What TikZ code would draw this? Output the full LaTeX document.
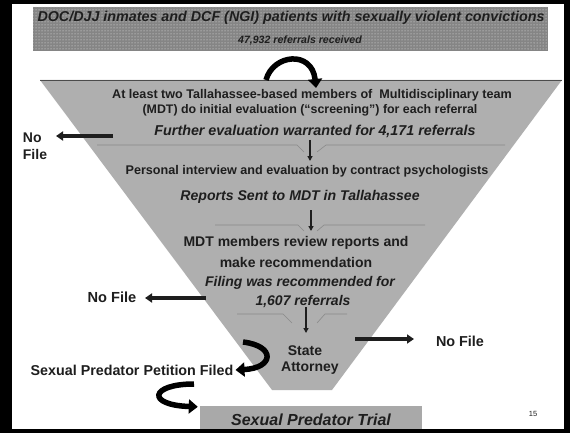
\documentclass[tikz,border=0pt]{standalone}
\usepackage{fontspec}
\setmainfont{Liberation Sans}
\usetikzlibrary{arrows.meta,patterns}
\definecolor{funnelgray}{HTML}{AFAFAF}
\definecolor{bannergray}{HTML}{858585}
\definecolor{trialgray}{HTML}{A9A9A9}
\definecolor{ink}{HTML}{1E1E1E}
\definecolor{sepgray}{HTML}{8A8A8A}
\tikzset{
  lbl/.style={inner sep=0pt, text=ink, font=\bfseries\fontsize{#1}{#1}\selectfont},
  ilbl/.style={inner sep=0pt, text=ink, font=\bfseries\itshape\fontsize{#1}{#1}\selectfont},
  stemarrow/.style={draw=ink, line width=1.6pt, -{Triangle[length=5pt,width=5pt]}},
  nofilearrow/.style={draw=ink, line width=3.4pt, -{Triangle[length=7pt,width=9pt]}},
  bendarrow/.style={draw=black, line width=5.5pt, -{Triangle[length=9pt,width=14pt]}},
  sepline/.style={draw=sepgray, line width=0.6pt},
}
\begin{document}
\begin{tikzpicture}[x=1pt,y=-1pt]
\useasboundingbox (0,0) rectangle (570,433);
\fill[white] (0,0) rectangle (570,433);

% top banner
\fill[bannergray] (33,7) rectangle (548,51);
\fill[pattern=dots, pattern color=white!85!gray] (33,7) rectangle (548,51);
\node[ilbl=14.3] (head) at (291,18) {DOC/DJJ inmates and DCF (NGI) patients with sexually violent convictions};
\node[ilbl=10.6] (count) at (300,40) {47,932 referrals received};

% funnel
\fill[funnelgray] (40,80) -- (562,80) -- (332,390) -- (272,390) -- cycle;
\draw[gray!60!black, line width=0.8pt] (40,80) -- (562,80);

\node[lbl=12.6] (l1) at (312,95) {At least two Tallahassee-based members of \ Multidisciplinary team};
\node[lbl=12.4] (l2) at (310,110) {(MDT) do initial evaluation (“screening”) for each referral};
\node[ilbl=14.3] (l3) at (315,131) {Further evaluation warranted for 4,171 referrals};

\coordinate (s1a) at (97,145); \coordinate (s1b) at (297,145); \coordinate (s1c) at (304,152);
\coordinate (s1d) at (317,152); \coordinate (s1e) at (326,145); \coordinate (s1f) at (505,145);
\draw[sepline] (s1a) -- (s1b) -- (s1c);
\draw[sepline] (s1d) -- (s1e) -- (s1f);
\coordinate (a1s) at (310,140); \coordinate (a1e) at (310,161);
\draw[stemarrow] (a1s) -- (a1e);

\node[lbl=12.6] (l4) at (307,171) {Personal interview and evaluation by contract psychologists};
\node[ilbl=14.1] (l5) at (300,197) {Reports Sent to MDT in Tallahassee};

\coordinate (s2a) at (215,225); \coordinate (s2b) at (298,225); \coordinate (s2c) at (304,231);
\coordinate (s2d) at (317,231); \coordinate (s2e) at (324,225); \coordinate (s2f) at (425,225);
\draw[sepline] (s2a) -- (s2b) -- (s2c);
\draw[sepline] (s2d) -- (s2e) -- (s2f);
\coordinate (a2s) at (311,210); \coordinate (a2e) at (311,231);
\draw[stemarrow] (a2s) -- (a2e);

\node[lbl=14] (l6) at (296,243) {MDT members review reports and};
\node[lbl=14] (l7) at (296,262) {make recommendation};
\node[ilbl=14] (l8) at (300,283) {Filing was recommended for};
\node[ilbl=14] (l9) at (303,302) {1,607 referrals};

\coordinate (s3a) at (237,314); \coordinate (s3b) at (283,314); \coordinate (s3c) at (292,323);
\coordinate (s3d) at (317,323); \coordinate (s3e) at (325,314); \coordinate (s3f) at (347,314);
\draw[sepline] (s3a) -- (s3b) -- (s3c);
\draw[sepline] (s3d) -- (s3e) -- (s3f);
\coordinate (a3s) at (306,307); \coordinate (a3e) at (306,333);
\draw[stemarrow] (a3s) -- (a3e);

\node[lbl=14] (sa1) at (305,351) {State};
\node[lbl=14] (sa2) at (310,368) {Attorney};

% "No File" exits
\node[lbl=14, align=left] (nf1) at (35,146) {No\\[3pt]File};
\coordinate (nf1s) at (113,136);
\draw[nofilearrow] (nf1s) -- (56,136);

\node[lbl=14.6] (nf2) at (112,297) {No File};
\coordinate (nf2s) at (206,298);
\draw[nofilearrow] (nf2s) -- (145,298);

\node[lbl=14.4] (nf3) at (460,341) {No File};
\coordinate (nf3s) at (355,339);
\draw[nofilearrow] (nf3s) -- (414,339);

% petition and trial
\node[lbl=14.3] (pet) at (132,370) {Sexual Predator Petition Filed};
\coordinate (c2s) at (243,342);
\draw[bendarrow] (c2s) .. controls (276,346) and (274,368) .. ([xshift=2pt]pet.east);

\node[fill=trialgray, inner sep=0pt, minimum width=222pt, minimum height=28pt,
      text=ink, font=\bfseries\itshape\fontsize{16}{16}\selectfont] (trial) at (311,420) {Sexual Predator Trial};
\coordinate (c3s) at (194,384);
\draw[bendarrow] (c3s) .. controls (150,384) and (146,405) .. ([xshift=-2pt,yshift=-1pt]trial.north west);

% entry arrow into the funnel
\coordinate (c1s) at (266,80);
\draw[bendarrow] (c1s) .. controls (273,54) and (312,50) .. (316,88);

\node[inner sep=0pt, text=ink, font=\fontsize{7.5}{7.5}\selectfont] (pg) at (533,414) {15};

% slide frame
\fill[black] (0,0) rectangle (570,4);
\fill[black] (0,0) rectangle (12,433);
\fill[black] (564,0) rectangle (570,433);
\fill[black] (0,429) rectangle (570,433);
\end{tikzpicture}
\end{document}
